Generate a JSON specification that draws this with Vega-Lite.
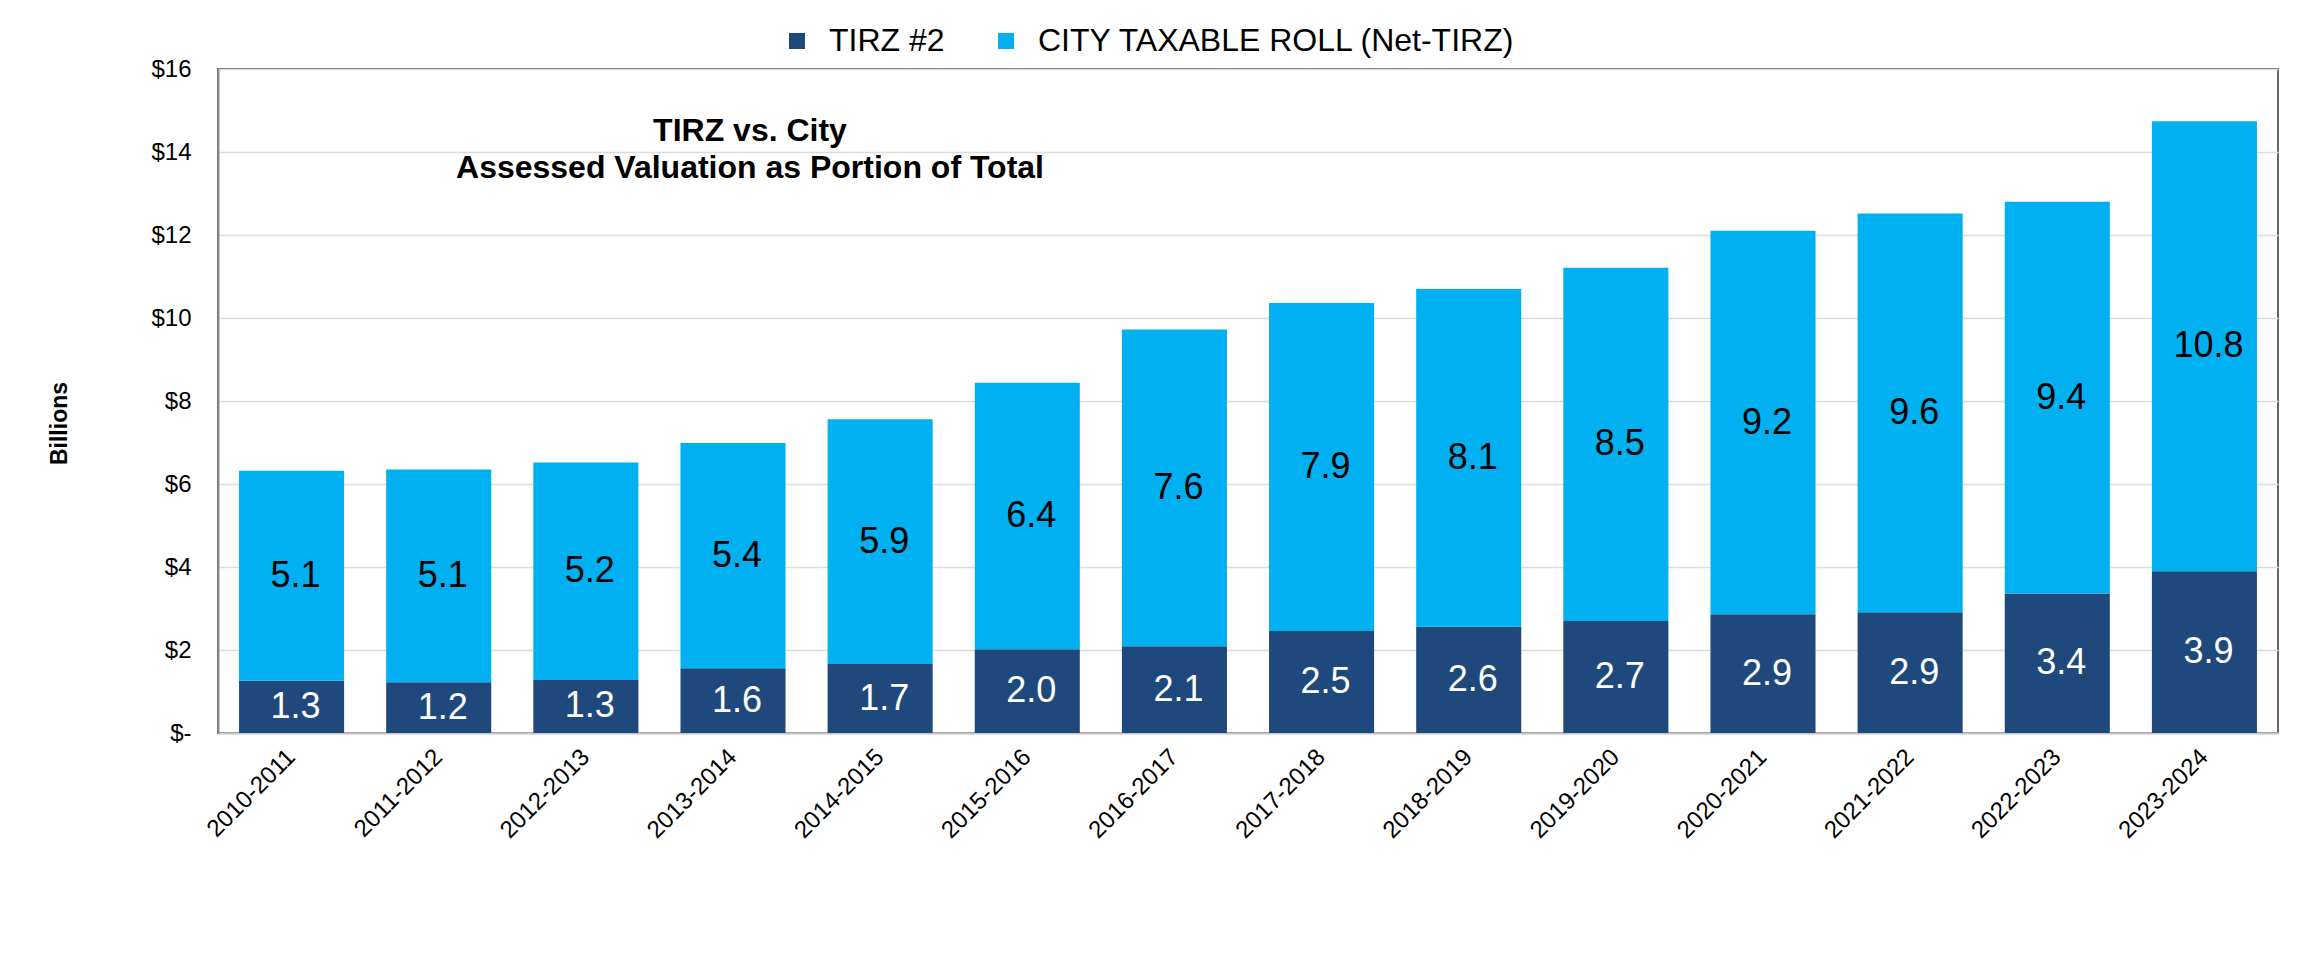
{
  "$schema": "https://vega.github.io/schema/vega-lite/v6.json",
  "width": 2060,
  "height": 664,
  "autosize": {"type": "none"},
  "padding": {"left": 218, "top": 69, "right": 32, "bottom": 224},
  "background": "white",
  "config": {
    "font": "Liberation Sans",
    "view": {"stroke": "#666666", "strokeWidth": 2}
  },
  "title": {
    "text": ["TIRZ vs. City", "Assessed Valuation as Portion of Total"],
    "anchor": "start",
    "align": "center",
    "dx": 532,
    "orient": "top",
    "offset": -160,
    "fontSize": 32,
    "fontWeight": "bold",
    "color": "black",
    "lineHeight": 37,
    "frame": "group"
  },
  "data": {
    "values": [
      {"year": "2010-2011", "series": "TIRZ #2", "ord": 1, "value": 1.26},
      {"year": "2010-2011", "series": "CITY TAXABLE ROLL (Net-TIRZ)", "ord": 2, "value": 5.06},
      {"year": "2011-2012", "series": "TIRZ #2", "ord": 1, "value": 1.22},
      {"year": "2011-2012", "series": "CITY TAXABLE ROLL (Net-TIRZ)", "ord": 2, "value": 5.13},
      {"year": "2012-2013", "series": "TIRZ #2", "ord": 1, "value": 1.28},
      {"year": "2012-2013", "series": "CITY TAXABLE ROLL (Net-TIRZ)", "ord": 2, "value": 5.24},
      {"year": "2013-2014", "series": "TIRZ #2", "ord": 1, "value": 1.56},
      {"year": "2013-2014", "series": "CITY TAXABLE ROLL (Net-TIRZ)", "ord": 2, "value": 5.43},
      {"year": "2014-2015", "series": "TIRZ #2", "ord": 1, "value": 1.66},
      {"year": "2014-2015", "series": "CITY TAXABLE ROLL (Net-TIRZ)", "ord": 2, "value": 5.90},
      {"year": "2015-2016", "series": "TIRZ #2", "ord": 1, "value": 2.02},
      {"year": "2015-2016", "series": "CITY TAXABLE ROLL (Net-TIRZ)", "ord": 2, "value": 6.42},
      {"year": "2016-2017", "series": "TIRZ #2", "ord": 1, "value": 2.09},
      {"year": "2016-2017", "series": "CITY TAXABLE ROLL (Net-TIRZ)", "ord": 2, "value": 7.63},
      {"year": "2017-2018", "series": "TIRZ #2", "ord": 1, "value": 2.46},
      {"year": "2017-2018", "series": "CITY TAXABLE ROLL (Net-TIRZ)", "ord": 2, "value": 7.90},
      {"year": "2018-2019", "series": "TIRZ #2", "ord": 1, "value": 2.56},
      {"year": "2018-2019", "series": "CITY TAXABLE ROLL (Net-TIRZ)", "ord": 2, "value": 8.14},
      {"year": "2019-2020", "series": "TIRZ #2", "ord": 1, "value": 2.70},
      {"year": "2019-2020", "series": "CITY TAXABLE ROLL (Net-TIRZ)", "ord": 2, "value": 8.51},
      {"year": "2020-2021", "series": "TIRZ #2", "ord": 1, "value": 2.86},
      {"year": "2020-2021", "series": "CITY TAXABLE ROLL (Net-TIRZ)", "ord": 2, "value": 9.24},
      {"year": "2021-2022", "series": "TIRZ #2", "ord": 1, "value": 2.91},
      {"year": "2021-2022", "series": "CITY TAXABLE ROLL (Net-TIRZ)", "ord": 2, "value": 9.61},
      {"year": "2022-2023", "series": "TIRZ #2", "ord": 1, "value": 3.36},
      {"year": "2022-2023", "series": "CITY TAXABLE ROLL (Net-TIRZ)", "ord": 2, "value": 9.44},
      {"year": "2023-2024", "series": "TIRZ #2", "ord": 1, "value": 3.90},
      {"year": "2023-2024", "series": "CITY TAXABLE ROLL (Net-TIRZ)", "ord": 2, "value": 10.84}
    ]
  },
  "layer": [
    {
      "mark": {"type": "bar"},
      "encoding": {
        "x": {
          "field": "year",
          "type": "nominal",
          "sort": null,
          "scale": {"paddingInner": 0.286, "paddingOuter": 0.143},
          "axis": {
            "title": null,
            "labelAngle": -45,
            "labelAlign": "right",
            "labelBaseline": "middle",
            "labelFontSize": 24,
            "labelColor": "black",
            "labelPadding": 20,
            "ticks": false,
            "domainColor": "#C8C8C8",
            "domainWidth": 2
          }
        },
        "y": {
          "field": "value",
          "type": "quantitative",
          "stack": "zero",
          "title": "Billions",
          "scale": {"domain": [0, 16]},
          "axis": {
            "values": [0, 2, 4, 6, 8, 10, 12, 14, 16],
            "labelExpr": "datum.value === 0 ? '$-' : '$' + datum.value",
            "labelFontSize": 24,
            "labelColor": "black",
            "labelPadding": 27,
            "ticks": false,
            "domainColor": "#8C8C8C",
            "domainWidth": 2,
            "gridColor": "#DCDCDC",
            "gridWidth": 1.5,
            "titleFontSize": 23,
            "titleFontWeight": "bold",
            "titleColor": "black",
            "titleX": -147,
            "titleY": 354
          }
        },
        "color": {
          "field": "series",
          "type": "nominal",
          "scale": {
            "domain": ["TIRZ #2", "CITY TAXABLE ROLL (Net-TIRZ)"],
            "range": ["#1F497D", "#00B0F0"]
          },
          "legend": {
            "title": null,
            "orient": "none",
            "legendX": 563,
            "legendY": -44,
            "direction": "horizontal",
            "symbolType": "square",
            "symbolSize": 256,
            "symbolStrokeWidth": 0,
            "symbolOpacity": 1,
            "labelFontSize": 32,
            "labelColor": "black",
            "labelOffset": 16,
            "columnPadding": 45,
            "labelLimit": 900,
            "padding": 0
          }
        },
        "order": {"field": "ord", "type": "quantitative"}
      }
    },
    {
      "transform": [
        {"stack": "value", "groupby": ["year"], "sort": [{"field": "ord", "order": "ascending"}], "as": ["v0", "v1"]},
        {"fold": ["v0", "v1"], "as": ["edge", "pos"]},
        {"aggregate": [{"op": "mean", "field": "pos", "as": "mid"}], "groupby": ["year", "series", "value", "ord"]}
      ],
      "mark": {"type": "text", "fontSize": 36, "dx": 4, "baseline": "middle"},
      "encoding": {
        "x": {"field": "year", "type": "nominal", "sort": null},
        "y": {"field": "mid", "type": "quantitative", "title": "Billions"},
        "text": {"field": "value", "type": "quantitative", "format": ".1f"},
        "color": {
          "condition": {"test": "datum.series === 'TIRZ #2'", "value": "white"},
          "value": "black"
        }
      }
    }
  ]
}
